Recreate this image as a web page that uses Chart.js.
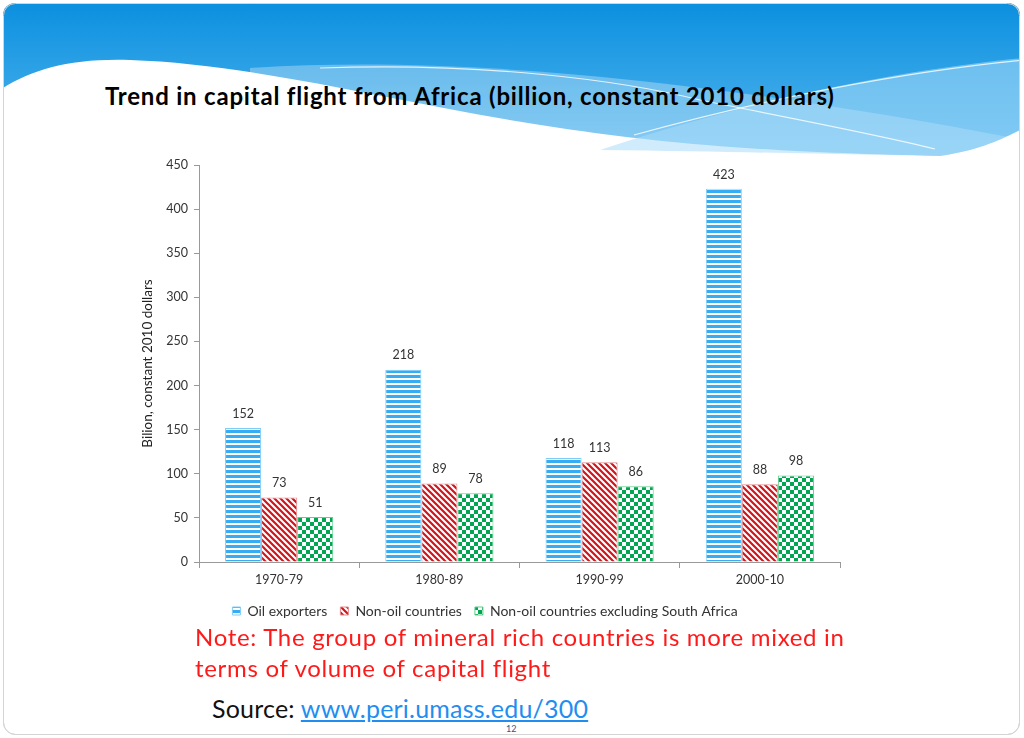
<!DOCTYPE html>
<html>
<head>
<meta charset="utf-8">
<script src="https://cdn.jsdelivr.net/npm/chart.js@4.4.0/dist/chart.umd.min.js"></script>
<style>
  html, body { margin: 0; padding: 0; background: #fff; }
  #slide { position: relative; width: 1024px; height: 738px; overflow: hidden; font-family: Lato, sans-serif; }
  #bg { position: absolute; left: 0; top: 0; }
  #title { position: absolute; left: 105px; top: 81px; font-size: 24px; letter-spacing: 0.8px; font-weight: bold; color: #000; white-space: nowrap; }
  #wrap { position: absolute; left: 130px; top: 150px; width: 720px; height: 486px; }
  #note { position: absolute; left: 195px; top: 621px; font-size: 24px; letter-spacing: 0.7px; line-height: 31px; color: #ff1a1a; width: 680px; }
  #source { position: absolute; left: 212px; top: 693px; font-size: 25px; letter-spacing: 0.2px; color: #111; white-space: nowrap; }
  #source a { color: #1f8ef0; text-decoration: underline; }
  #page { position: absolute; left: 506px; top: 723px; font-size: 9px; color: #2a5a8a; }
</style>
</head>
<body>
<div id="slide">
  <svg id="bg" width="1024" height="738">
    <defs>
      <clipPath id="frame"><rect x="3" y="3" width="1017" height="731" rx="12"/></clipPath>
      <linearGradient id="sky" x1="0" y1="0" x2="0" y2="1">
        <stop offset="0" stop-color="#0a8fdf"/>
        <stop offset="1" stop-color="#5ab9ef"/>
      </linearGradient>
    </defs>
    <rect x="3.5" y="3.5" width="1016" height="731" rx="12" fill="#fff" stroke="#d4d4d4"/>
    <g clip-path="url(#frame)">
      <rect x="0" y="0" width="1024" height="165" fill="url(#sky)"/>
      <path d="M250,68 C450,55 700,78 1024,140 L1024,170 L250,170 Z" fill="rgba(255,255,255,0.3)"/>
      <path d="M600,150 C750,100 900,70 1024,58 L1024,170 L600,170 Z" fill="rgba(255,255,255,0.3)"/>
      <path d="M0,90 C30,70 70,58 130,60 C260,64 420,108 560,128 C660,143 760,152 940,156 C980,150 1000,140 1024,128 L1024,175 L0,175 Z" fill="#fff"/>
      <path d="M600,150 C750,100 900,70 1024,58 L1024,128 C1000,140 980,150 940,156 C860,155 760,152 600,150 Z" fill="rgba(120,200,245,0.35)"/>
      <path d="M320,68 C480,62 620,80 700,100 C800,120 880,135 935,149" fill="none" stroke="#fff" stroke-width="1.2" opacity="0.8"/>
      <path d="M634,135 C760,100 900,72 1024,60" fill="none" stroke="#fff" stroke-width="1.2" opacity="0.8"/>
    </g>
    <rect x="3.5" y="3.5" width="1016" height="731" rx="12" fill="none" stroke="#d4d4d4"/>
  </svg>
  <div id="title">Trend in capital flight from Africa (billion, constant 2010 dollars)</div>
  <div id="wrap"><canvas id="chart"></canvas></div>
  <div id="note">Note: The group of mineral rich countries is more mixed in terms of volume of capital flight</div>
  <div id="source">Source: <a href="#">www.peri.umass.edu/300</a></div>
  <div id="page">12</div>
</div>
<script>
const periods = ['1970-79', '1980-89', '1990-99', '2000-10'];
const oilExporters = [152, 218, 118, 423];
const nonOil = [73, 89, 113, 88];
const nonOilExSA = [51, 78, 86, 98];
const yTicks = [0, 50, 100, 150, 200, 250, 300, 350, 400, 450];

// little canvas tiles used as bar fills
function tile(size, draw) {
    var c = document.createElement('canvas');
    c.width = size; c.height = size;
    var g = c.getContext('2d');
    g.fillStyle = '#fff';
    g.fillRect(0, 0, size, size);
    draw(g);
    return document.createElement('canvas').getContext('2d').createPattern(c, 'repeat');
}

var blueStripes = tile(5, function (g) {
    g.fillStyle = '#36acf2';
    g.fillRect(0, 0, 5, 3);
});
var redDiag = tile(6, function (g) {
    g.strokeStyle = '#d2141c';
    g.lineWidth = 2.2;
    g.beginPath();
    g.moveTo(-1, -1); g.lineTo(7, 7);
    g.moveTo(-7, -1); g.lineTo(1, 7);
    g.moveTo(5, -1); g.lineTo(13, 7);
    g.stroke();
});
var greenCheck = tile(8, function (g) {
    g.fillStyle = '#00a651';
    g.fillRect(0, 0, 4, 4);
    g.fillRect(4, 4, 4, 4);
});

const valueLabels = {
    id: 'valueLabels',
    afterDatasetsDraw(chart) {
        const c = chart.ctx;
        c.save();
        c.font = '12.5px Lato, sans-serif';
        c.fillStyle = '#333';
        c.textAlign = 'center';
        c.textBaseline = 'bottom';
        chart.data.datasets.forEach(function (ds, i) {
            chart.getDatasetMeta(i).data.forEach(function (bar, j) {
                c.fillText(ds.data[j], bar.x, bar.y - 8);
            });
        });
        c.restore();
    }
};

const ctx = document.getElementById('chart');

var chart = new Chart(ctx, {
    type: 'bar',
    data: {
        labels: periods,
        datasets: [{
            label: 'Oil exporters',
            data: oilExporters,
            backgroundColor: blueStripes,
            borderColor: '#7fcdf7',
            borderWidth: 1
        }, {
            label: 'Non-oil countries',
            data: nonOil,
            backgroundColor: redDiag,
            borderColor: '#e88a8d',
            borderWidth: 1
        }, {
            label: 'Non-oil countries excluding South Africa',
            data: nonOilExSA,
            backgroundColor: greenCheck,
            borderColor: '#5fcf8c',
            borderWidth: 1
        }]
    },
    options: {
        responsive: true,
        maintainAspectRatio: false,
        animation: false,
        categoryPercentage: 0.675,
        barPercentage: 1,
        layout: { padding: { top: 15, right: 10, bottom: 8, left: 0 } },
        plugins: {
            tooltip: { enabled: false },
            legend: {
                position: 'bottom',
                labels: {
                    boxWidth: 8,
                    boxHeight: 8,
                    padding: 13,
                    color: '#333',
                    font: { size: 14, family: 'Lato, sans-serif' }
                }
            }
        },
        scales: {
            x: {
                grid: { drawOnChartArea: false, drawTicks: true, tickLength: 6, color: '#999' },
                border: { color: '#999' },
                ticks: { color: '#333', font: { size: 12.5, family: 'Lato, sans-serif' }, padding: 4 }
            },
            y: {
                min: 0,
                max: 450,
                afterBuildTicks: function (scale) {
                    scale.ticks = yTicks.map(function (v) { return { value: v }; });
                },
                afterFit: function (scale) { scale.width = 69; },
                grid: { drawOnChartArea: false, drawTicks: true, tickLength: 5, color: '#999' },
                border: { color: '#999' },
                ticks: { color: '#333', font: { size: 12.5, family: 'Lato, sans-serif' }, padding: 6 },
                title: {
                    display: true,
                    text: 'Bilion, constant 2010 dollars',
                    color: '#222',
                    font: { size: 13.5, family: 'Lato, sans-serif' },
                    padding: { top: 10, bottom: 0 }
                }
            }
        }
    },
    plugins: [valueLabels]
});
</script>
</body>
</html>
